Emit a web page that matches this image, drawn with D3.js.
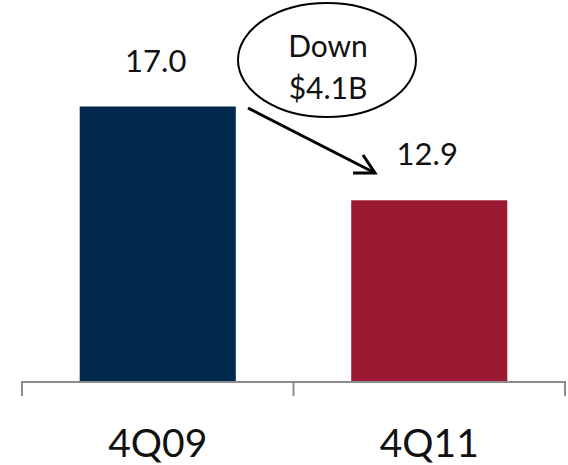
<!DOCTYPE html>
<html>
<head>
<meta charset="utf-8">
<script src="https://cdn.jsdelivr.net/npm/d3@7"></script>
<style>
  html, body { margin: 0; padding: 0; background: #ffffff; }
  svg { display: block; font-family: Lato, "Open Sans", sans-serif; }
</style>
</head>
<body>
<svg id="chart" width="568" height="465"></svg>
<script>
// Quarter-end balances, $B
const categories = ["4Q09", "4Q11"];
const values = [17.0, 12.9];
const barColors = ["#022a4f", "#9b1a33"];
const calloutLines = ["Down", "$4.1B"];

const svg = d3.select("#chart");
const baseY = 381;

const x = d3.scaleBand()
  .domain(categories)
  .range([22, 565])
  .paddingInner(0.425)
  .paddingOuter(0.2125);

const y = d3.scaleLinear()
  .domain([5, 20])
  .range([baseY, baseY - 15 * 22.875]);

// Bars
svg.selectAll("rect.bar")
  .data(categories)
  .join("rect")
  .attr("class", "bar")
  .attr("x", d => x(d))
  .attr("width", x.bandwidth())
  .attr("y", (d, i) => y(values[i]))
  .attr("height", (d, i) => baseY - y(values[i]))
  .attr("fill", (d, i) => barColors[i]);

// Value labels
svg.selectAll("text.value")
  .data(categories)
  .join("text")
  .attr("class", "value")
  .attr("x", d => x(d) + x.bandwidth() / 2 - 2)
  .attr("y", (d, i) => y(values[i]) - 35)
  .attr("text-anchor", "middle")
  .attr("font-size", 31)
  .attr("fill", "#111")
  .text((d, i) => values[i].toFixed(1));

// Category axis with boundary ticks
const axisG = svg.append("g").attr("stroke", "#8c8c8c").attr("stroke-width", 2);
axisG.append("line")
  .attr("x1", x.range()[0]).attr("x2", x.range()[1])
  .attr("y1", baseY + 1).attr("y2", baseY + 1);
const bounds = [x.range()[0], (x(categories[0]) + x.bandwidth() + x(categories[1])) / 2, x.range()[1]];
axisG.selectAll("line.tick")
  .data(bounds)
  .join("line")
  .attr("class", "tick")
  .attr("x1", d => d).attr("x2", d => d)
  .attr("y1", baseY).attr("y2", baseY + 15);

svg.selectAll("text.cat")
  .data(categories)
  .join("text")
  .attr("class", "cat")
  .attr("x", d => x(d) + x.bandwidth() / 2)
  .attr("y", 457)
  .attr("text-anchor", "middle")
  .attr("font-size", 39)
  .attr("fill", "#111")
  .text(d => d);

// Callout: ellipse with change note
svg.append("ellipse")
  .attr("cx", 327).attr("cy", 60)
  .attr("rx", 89).attr("ry", 57)
  .attr("fill", "#fff")
  .attr("stroke", "#000")
  .attr("stroke-width", 2);

svg.selectAll("text.callout")
  .data(calloutLines)
  .join("text")
  .attr("class", "callout")
  .attr("x", 328)
  .attr("y", (d, i) => 57 + i * 42)
  .attr("text-anchor", "middle")
  .attr("font-size", 30)
  .attr("fill", "#111")
  .text(d => d);

// Arrow from first bar toward second
const arrowStart = [248, 108];
const arrowEnd = [375, 173];
svg.append("line")
  .attr("x1", arrowStart[0]).attr("y1", arrowStart[1])
  .attr("x2", arrowEnd[0]).attr("y2", arrowEnd[1])
  .attr("stroke", "#000").attr("stroke-width", 3);
svg.append("path")
  .attr("d", `M363,155 L${arrowEnd[0]},${arrowEnd[1]} L353,173`)
  .attr("fill", "none")
  .attr("stroke", "#000")
  .attr("stroke-width", 3)
  .attr("stroke-linejoin", "miter");
</script>
</body>
</html>
